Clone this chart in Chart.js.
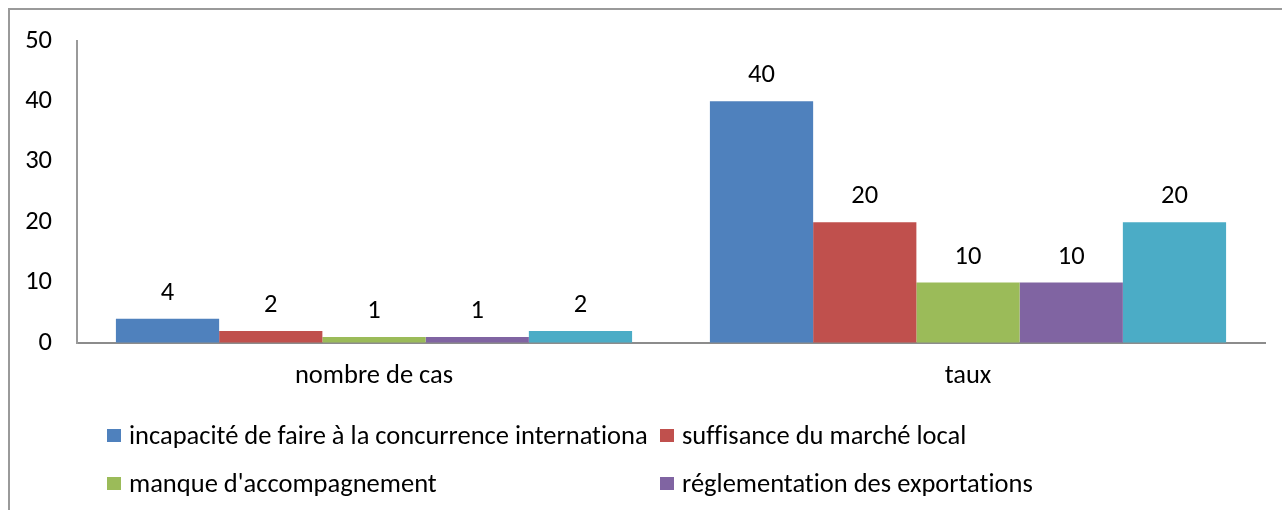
<!DOCTYPE html>
<html>
<head>
<meta charset="utf-8">
<script src="https://cdn.jsdelivr.net/npm/chart.js@4.4.1/dist/chart.umd.min.js"></script>
<style>
  html, body { margin:0; padding:0; width:1282px; height:510px; overflow:hidden; background:#fff; }
  #wrap { position:relative; width:1282px; height:510px; }
  #frame { position:absolute; left:8px; top:8px; width:1400px; height:600px; border-left:2px solid #9a9a9a; border-top:2px solid #9a9a9a; box-sizing:border-box; pointer-events:none; }
  canvas { position:absolute; left:0; top:0; }
  .lg { position:absolute; height:30px; display:flex; align-items:center; font-family:Carlito, "Liberation Sans Narrow", sans-serif; font-size:26.5px; color:#000; white-space:nowrap; font-variant-ligatures:none; font-feature-settings:"liga" 0, "clig" 0; }
  .lg span.sw { display:inline-block; width:14px; height:13px; margin-right:8px; }
</style>
</head>
<body>
<div id="wrap">
  <canvas id="c" width="1282" height="510"></canvas>
  <div id="frame"></div>
  <div id="legend"></div>
</div>
<script>
// ---- data ----
const categories = ["nombre de cas", "taux"];
const seriesLabels = [
  "incapacité de faire à la concurrence internationa",
  "suffisance du marché local",
  "manque d'accompagnement",
  "réglementation des exportations",
  "autres"
];
const incapacite = [4, 40];
const suffisance = [2, 20];
const accompagnement = [1, 10];
const reglementation = [1, 10];
const autres = [2, 20];
const yTicks = [0, 10, 20, 30, 40, 50];
const colors = ["#4F81BD", "#C0504D", "#9BBB59", "#8064A2", "#4BACC6"];

const seriesValues = [incapacite, suffisance, accompagnement, reglementation, autres];
const FONT = "Carlito, 'Liberation Sans Narrow', sans-serif";
const FS = 26.5;

const valueLabels = {
  id: 'valueLabels',
  afterDatasetsDraw(chart) {
    const ctx = chart.ctx;
    ctx.save();
    ctx.font = FS + "px " + FONT;
    ctx.fillStyle = "#000";
    ctx.textAlign = "center";
    ctx.textBaseline = "alphabetic";
    chart.data.datasets.forEach((ds, i) => {
      const meta = chart.getDatasetMeta(i);
      meta.data.forEach((el, j) => {
        ctx.fillText(String(ds.data[j]), el.x, el.y - 19);
      });
    });
    ctx.restore();
  }
};

const chart = new Chart(document.getElementById('c'), {
  type: 'bar',
  data: {
    labels: categories,
    datasets: seriesValues.map((vals, i) => ({
      label: seriesLabels[i],
      data: vals,
      backgroundColor: colors[i],
      borderWidth: 0,
      categoryPercentage: 0.869,
      barPercentage: 1.0
    }))
  },
  options: {
    responsive: false,
    animation: false,
    devicePixelRatio: 1,
    layout: { padding: { left: 0, right: 17, top: 37, bottom: 87 } },
    plugins: { legend: { display: false }, tooltip: { enabled: false } },
    scales: {
      x: {
        grid: { display: true, color: 'rgba(0,0,0,0)', drawTicks: false },
        border: { display: true, color: '#8c8c8c', width: 2 },
        ticks: { color: '#000', font: { family: FONT, size: FS }, padding: 17, maxRotation: 0 },
        afterFit(s) { s.height = 80; }
      },
      y: {
        min: 0, max: 50,
        afterBuildTicks(s) { s.ticks = yTicks.map(v => ({ value: v })); },
        grid: { display: true, color: 'rgba(0,0,0,0)', drawTicks: false },
        border: { display: true, color: '#9a9a9a', width: 2 },
        ticks: { color: '#000', font: { family: FONT, size: FS }, padding: 25 },
        afterFit(s) { s.width = 77; }
      }
    }
  },
  plugins: [valueLabels]
});

// ---- legend (two columns, as in the original; fifth item falls outside the frame) ----
const legend = document.getElementById('legend');
const colX = [107, 660];
const rowY = [435, 483, 531];
seriesLabels.forEach((lab, i) => {
  const d = document.createElement('div');
  d.className = 'lg';
  d.style.left = colX[i % 2] + 'px';
  d.style.top = (rowY[Math.floor(i / 2)] - 15) + 'px';
  const sw = document.createElement('span');
  sw.className = 'sw';
  sw.style.background = colors[i];
  d.appendChild(sw);
  d.appendChild(document.createTextNode(lab));
  legend.appendChild(d);
});
</script>
</body>
</html>
